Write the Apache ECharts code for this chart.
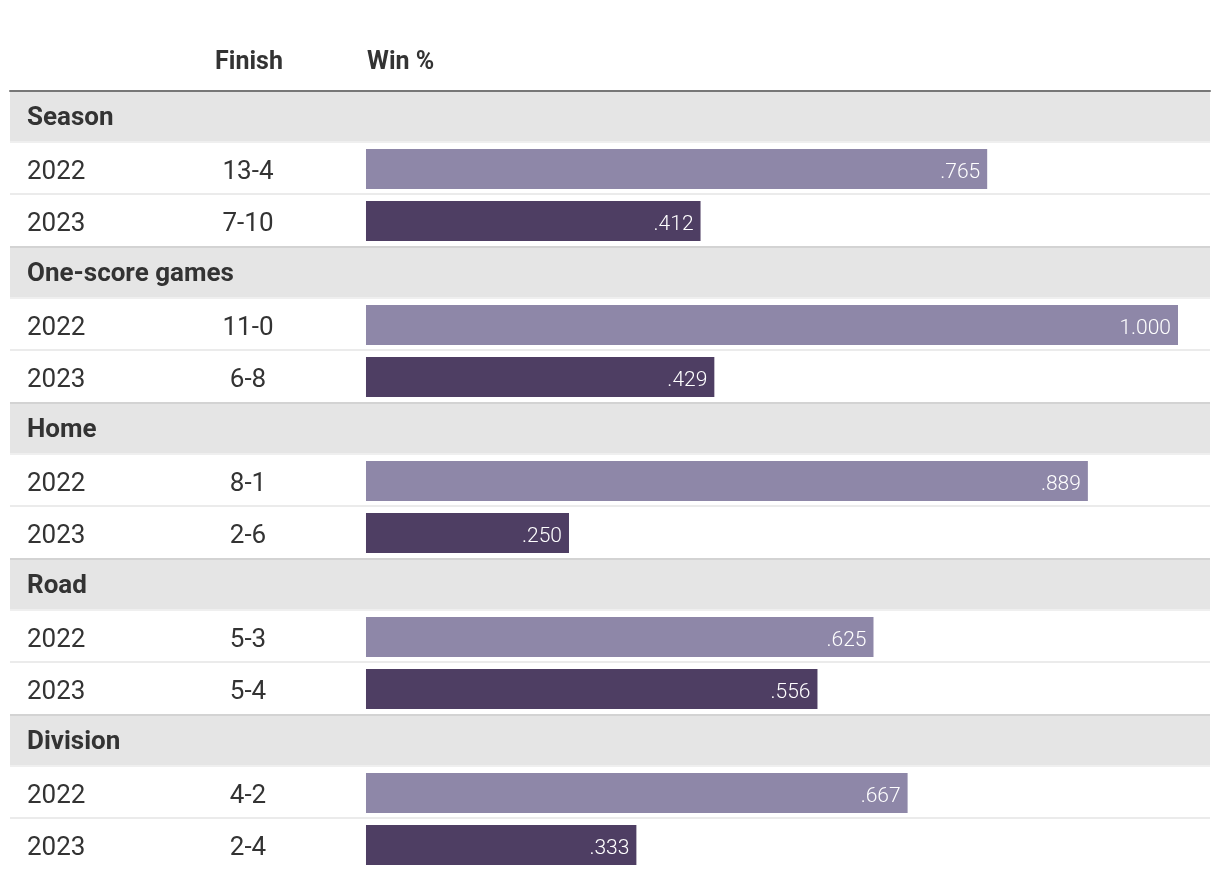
<!DOCTYPE html>
<html>
<head>
<meta charset="utf-8">
<script src="https://cdn.jsdelivr.net/npm/echarts@6/dist/echarts.min.js"></script>
<style>
  html, body { margin: 0; padding: 0; background: #fff; }
  #chart { width: 1220px; height: 884px; }
</style>
</head>
<body>
<div id="chart"></div>
<script>
// ---- data ----
const columnHeaders = ['Finish', 'Win %'];
const groups = ['Season', 'One-score games', 'Home', 'Road', 'Division'];
const years = ['2022', '2023'];
const finish2022 = ['13-4', '11-0', '8-1', '5-3', '4-2'];
const finish2023 = ['7-10', '6-8', '2-6', '5-4', '2-4'];
const pct2022 = [0.765, 1.000, 0.889, 0.625, 0.667];
const pct2023 = [0.412, 0.429, 0.250, 0.556, 0.333];

// ---- build rows ----
const rows = [];
groups.forEach((g, gi) => {
  rows.push({ kind: 'header', label: g, finish: '', value: null, year: null });
  rows.push({ kind: 'data', label: years[0], finish: finish2022[gi], value: pct2022[gi], year: 0 });
  rows.push({ kind: 'data', label: years[1], finish: finish2023[gi], value: pct2023[gi], year: 1 });
});
const rowKeys = rows.map((r, i) => 'r' + i);

const LIGHT = '#8e87a8';
const DARK = '#4e3e63';
const TEXT = '#333333';
const FONT = 'Roboto, "Noto Sans", sans-serif';
const FINISH_X = -0.1453; // value-axis position of the Finish column centre

const chart = echarts.init(document.getElementById('chart'), null, { renderer: 'canvas' });

const option = {
  animation: false,
  backgroundColor: '#ffffff',
  grid: { left: 10, right: 10, top: 91, bottom: 13, containLabel: false },
  xAxis: {
    type: 'value',
    position: 'top',
    min: -0.4384,
    max: 1.0394,
    axisLine: { show: true, onZero: false, lineStyle: { color: '#777777', width: 2 } },
    axisTick: { show: false },
    axisLabel: { show: false },
    splitLine: { show: false }
  },
  yAxis: {
    type: 'category',
    inverse: true,
    data: rowKeys,
    z: 10,
    axisLine: { show: false },
    axisTick: { show: false },
    splitLine: { show: false },
    axisLabel: {
      inside: true,
      margin: 17,
      formatter: function (v, idx) {
        const r = rows[idx];
        return r.kind === 'header' ? '{h|' + r.label + '}' : '{d|' + r.label + '}';
      },
      rich: {
        h: { fontFamily: FONT, fontSize: 26, fontWeight: 'bold', color: TEXT, padding: [2, 0, 0, 0] },
        d: { fontFamily: FONT, fontSize: 26, fontWeight: 'normal', color: TEXT, padding: [6, 0, 0, 0] }
      }
    }
  },
  graphic: [
    {
      type: 'text', x: 249, y: 63, z: 10,
      style: { text: columnHeaders[0], fontFamily: FONT, fontSize: 25, fontWeight: 'bold', fill: TEXT, textAlign: 'center', textVerticalAlign: 'middle' }
    },
    {
      type: 'text', x: 367, y: 63, z: 10,
      style: { text: columnHeaders[1], fontFamily: FONT, fontSize: 25, fontWeight: 'bold', fill: TEXT, textAlign: 'left', textVerticalAlign: 'middle' }
    }
  ],
  series: [
    {
      type: 'custom',
      z: 1,
      silent: true,
      encode: { x: 0, y: 1 },
      data: rows.map((r, i) => [0, i]),
      renderItem: function (params, api) {
        const i = api.value(1);
        const r = rows[i];
        const cs = params.coordSys;
        const cy = api.coord([0, i])[1];
        const h = api.size([0, 1])[1];
        const top = cy - h / 2;
        const bottom = cy + h / 2;
        const children = [];
        if (r.kind === 'header') {
          const t = i === 0 ? top + 1 : top;
          children.push({ type: 'rect', shape: { x: cs.x, y: t, width: cs.width, height: bottom - 2 - t }, style: { fill: '#e5e5e5' } });
          if (i !== 0) {
            children.push({ type: 'rect', shape: { x: cs.x, y: top - 1, width: cs.width, height: 2 }, style: { fill: '#d3d3d3' } });
          }
          children.push({ type: 'rect', shape: { x: cs.x, y: bottom - 2, width: cs.width, height: 2 }, style: { fill: '#efefef' } });
        } else {
          if (i !== rows.length - 1 && rows[i + 1].kind !== 'header') {
            children.push({ type: 'rect', shape: { x: cs.x, y: bottom - 2, width: cs.width, height: 2 }, style: { fill: '#ebebeb' } });
          }
          children.push({
            type: 'text',
            x: api.coord([FINISH_X, i])[0],
            y: cy + 3,
            style: { text: r.finish, fontFamily: FONT, fontSize: 26, fill: TEXT, textAlign: 'center', textVerticalAlign: 'middle' }
          });
        }
        return { type: 'group', children: children };
      }
    },
    {
      type: 'bar',
      z: 3,
      barWidth: 40,
      data: rows.map(r => r.kind === 'header' ? '-' : { value: r.value, itemStyle: { color: r.year === 0 ? LIGHT : DARK } }),
      label: {
        show: true,
        position: 'insideRight',
        distance: 7,
        offset: [0, 4],
        color: '#ffffff',
        fontFamily: FONT,
        fontSize: 21,
        fontWeight: 300,
        formatter: function (p) {
          const s = Number(p.value).toFixed(3);
          return s.startsWith('0') ? s.slice(1) : s;
        }
      }
    }
  ]
};

chart.setOption(option);
</script>
</body>
</html>
